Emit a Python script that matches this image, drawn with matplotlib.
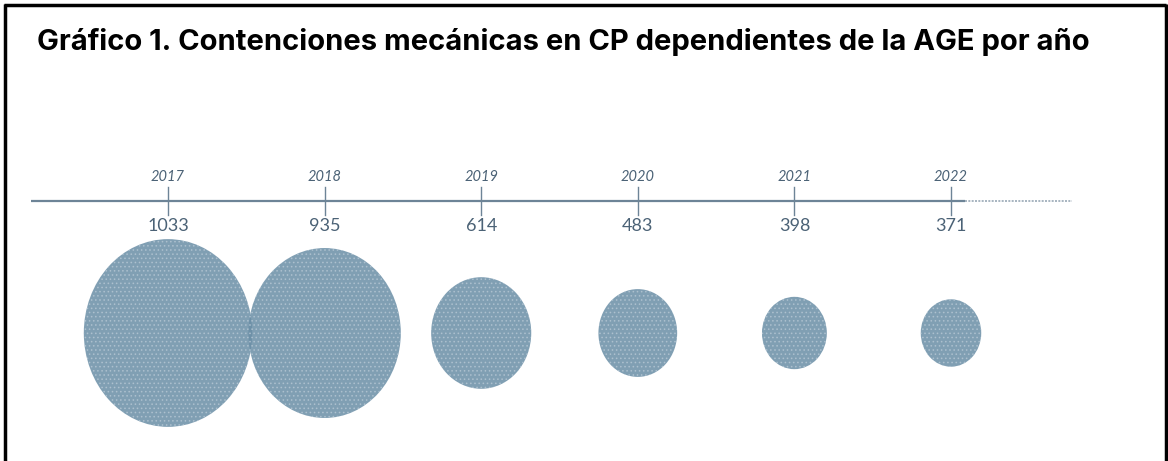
import matplotlib.pyplot as plt
from matplotlib.patches import Ellipse

# === Datos ===
years = ["2017", "2018", "2019", "2020", "2021", "2022"]
values = [1033, 935, 614, 483, 398, 371]

TITLE = "Gráfico 1. Contenciones mecánicas en CP dependientes de la AGE por año"
LINE_COLOR = "#6d8497"
TEXT_COLOR = "#4b6276"
BUBBLE_COLOR = "#6a8ea6"

# escala: una unidad x = 156.6 px, y en píxeles desde arriba
SLOT_PX = 156.6
DIAM_PX = 0.163          # px de diámetro por contención
STRETCH = 1.115          # burbujas algo alargadas en vertical
Y_AXIS, Y_BUBBLE = 201, 333

plt.rcParams["hatch.linewidth"] = 0.7

fig = plt.figure(figsize=(11.68, 4.61), dpi=100)
ax = fig.add_axes([0, 0, 1, 1])
ax.set_xlim(-168 / SLOT_PX, (1168 - 168) / SLOT_PX)
ax.set_ylim(461, 0)
ax.axis("off")

# eje temporal
x_end = len(years) - 1 + 0.09
ax.plot([-0.875, x_end], [Y_AXIS, Y_AXIS], color=LINE_COLOR, lw=1.6, solid_capstyle="butt")
ax.plot([x_end, x_end + 0.68], [Y_AXIS, Y_AXIS], color=LINE_COLOR, lw=1.2, ls=(0, (1.2, 0.8)), alpha=0.7)

for i, (year, val) in enumerate(zip(years, values)):
    ax.plot([i, i], [187, 215], color=LINE_COLOR, lw=1.0)
    ax.text(i, 177, year, ha="center", va="center", fontsize=10.5, style="italic",
            family="Lato", weight="normal", color=TEXT_COLOR)
    ax.text(i, 226, str(val), ha="center", va="center", fontsize=13,
            family="Lato", weight="normal", color=TEXT_COLOR)
    w = val * DIAM_PX / SLOT_PX
    h = val * DIAM_PX * STRETCH
    ax.add_patch(Ellipse((i, Y_BUBBLE), w, h, facecolor=BUBBLE_COLOR, edgecolor="none", alpha=0.85))
    ax.add_patch(Ellipse((i, Y_BUBBLE), w, h, facecolor="none", edgecolor="#c3d1dc",
                         lw=0, hatch="....", alpha=0.55))

# título
fig.text(37 / 1168, 1 - 42 / 461, TITLE, ha="left", va="center", fontsize=21,
         family="Inter", weight="bold", color="black")

# marco
frame = dict(color="black", lw=2.5, transform=fig.transFigure, solid_capstyle="butt")
fig.add_artist(plt.Line2D([5 / 1168, 5 / 1168], [0, 1 - 4 / 461], **frame))
fig.add_artist(plt.Line2D([4 / 1168, 1166 / 1168], [1 - 5 / 461, 1 - 5 / 461], **frame))
fig.add_artist(plt.Line2D([1166 / 1168, 1166 / 1168], [0, 1 - 4 / 461], **frame))

fig.savefig("out.png", dpi=100, facecolor="white")
